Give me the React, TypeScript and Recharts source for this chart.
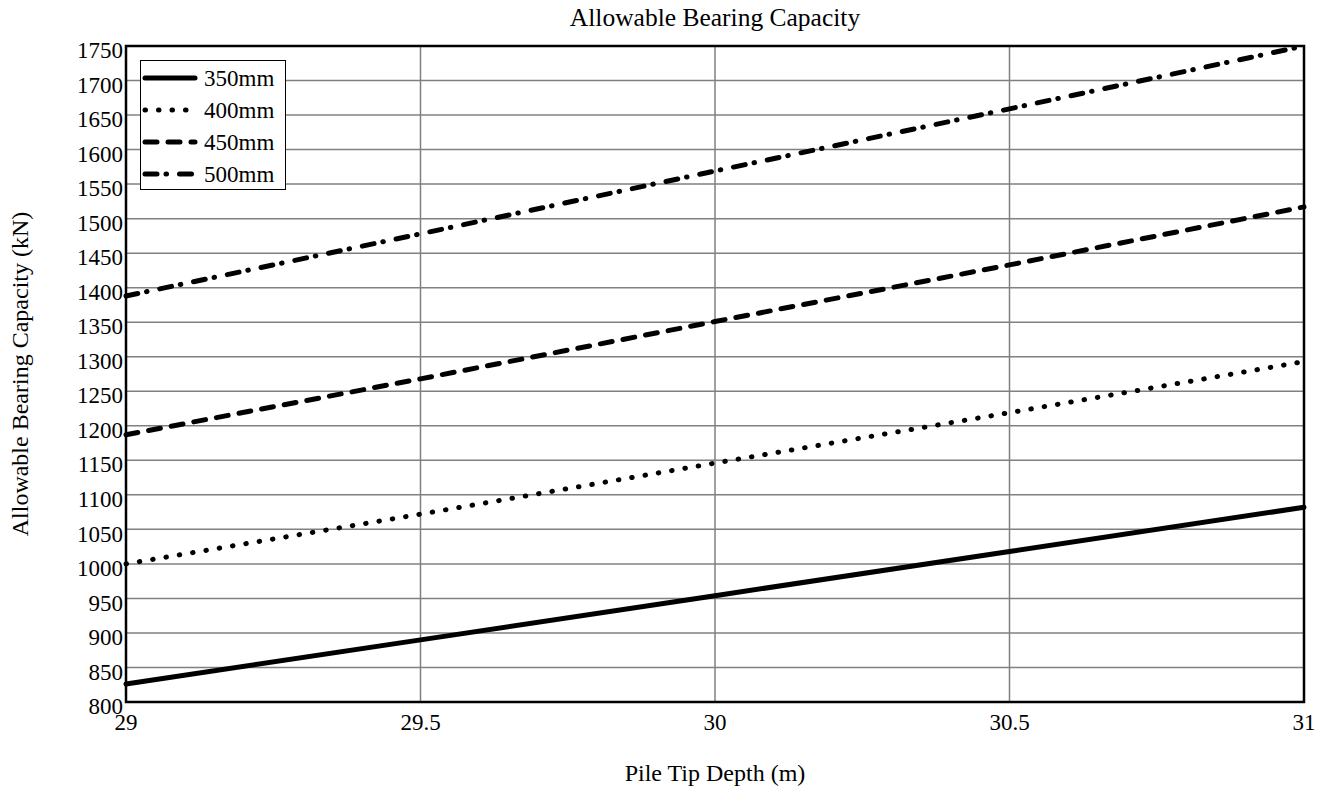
import React from "react"
import { LineChart, Line, XAxis, YAxis, CartesianGrid, ReferenceArea } from "recharts"

const depths = [29, 29.5, 30, 30.5, 31]
const pile350 = [826, 890, 954, 1018, 1082]
const pile400 = [1000, 1072, 1146, 1219, 1293]
const pile450 = [1187, 1268, 1351, 1433, 1517]
const pile500 = [1388, 1478, 1569, 1659, 1750]
const yTicks = [800, 850, 900, 950, 1000, 1050, 1100, 1150, 1200, 1250, 1300, 1350, 1400, 1450, 1500, 1550, 1600, 1650, 1700, 1750]
const xTicks = [29, 29.5, 30, 30.5, 31]

const data = depths.map((d, i) => ({
  depth: d,
  p350: pile350[i],
  p400: pile400[i],
  p450: pile450[i],
  p500: pile500[i],
}))

const FONT = "'Liberation Serif', 'Times New Roman', serif"

const series = [
  { key: "p350", name: "350mm", dash: undefined as string | undefined, width: 5 },
  { key: "p400", name: "400mm", dash: "0.5 13", width: 5 },
  { key: "p450", name: "450mm", dash: "12 11", width: 5 },
  { key: "p500", name: "500mm", dash: "12 9 0.5 13", width: 5 },
]

// legend drawn as an overlay so it doesn't eat into the plot area
function LegendBox() {
  return (
    <div
      style={{
        position: "absolute",
        left: 140,
        top: 60,
        width: 144,
        height: 127,
        border: "1.5px solid #000",
        background: "#fff",
        paddingTop: 1,
        fontFamily: FONT,
        fontSize: 23,
        color: "#000",
        boxSizing: "content-box",
      }}
    >
      {series.map((s) => (
        <div key={s.key} style={{ display: "flex", alignItems: "center", height: 32 }}>
          <svg width={60} height={12} style={{ display: "block" }}>
            <line
              x1={4}
              y1={6}
              x2={54}
              y2={6}
              stroke="#000"
              strokeWidth={s.width}
              strokeLinecap="round"
              strokeDasharray={s.dash}
            />
          </svg>
          <span style={{ marginLeft: 3, lineHeight: "23px" }}>{s.name}</span>
        </div>
      ))}
    </div>
  )
}

export default function App() {
  return (
    <div style={{ position: "absolute", left: 0, top: 0, width: 1332, height: 791, background: "#fff", fontFamily: FONT }}>
      <div style={{ position: "absolute", top: 3, left: 126, width: 1178, textAlign: "center", fontSize: 25.5, lineHeight: "30px" }}>
        Allowable Bearing Capacity
      </div>
      <div
        style={{
          position: "absolute",
          left: 20,
          top: 374,
          transform: "translate(-50%, -50%) rotate(-90deg)",
          whiteSpace: "nowrap",
          fontSize: 24,
          lineHeight: "28px",
        }}
      >
        Allowable Bearing Capacity (kN)
      </div>
      <div style={{ position: "absolute", top: 759, left: 126, width: 1178, textAlign: "center", fontSize: 24, lineHeight: "28px" }}>
        Pile Tip Depth (m)
      </div>
      <LineChart width={1332} height={791} data={data} margin={{ top: 46, right: 28, bottom: 0, left: 0 }}>
        <CartesianGrid stroke="#808080" strokeWidth={1.5} />
        <XAxis
          dataKey="depth"
          type="number"
          domain={[29, 31]}
          ticks={xTicks}
          height={89}
          tickSize={0}
          tickMargin={12}
          axisLine={false}
          interval={0}
          tick={{ fill: "#000", fontSize: 23, fontFamily: FONT }}
        />
        <YAxis
          type="number"
          domain={[800, 1750]}
          ticks={yTicks}
          width={126}
          tickSize={0}
          tickMargin={3}
          axisLine={false}
          interval={0}
          tick={{ fill: "#000", fontSize: 23, fontFamily: FONT, dy: 4 }}
        />
        <ReferenceArea x1={29} x2={31} y1={800} y2={1750} fill="none" stroke="#000" strokeWidth={2.5} fillOpacity={0} />
        {series.map((s) => (
          <Line
            key={s.key}
            type="linear"
            dataKey={s.key}
            name={s.name}
            stroke="#000"
            strokeWidth={s.width}
            strokeDasharray={s.dash}
            strokeLinecap="round"
            dot={false}
            activeDot={false}
            isAnimationActive={false}
          />
        ))}
      </LineChart>
      <LegendBox />
    </div>
  )
}
